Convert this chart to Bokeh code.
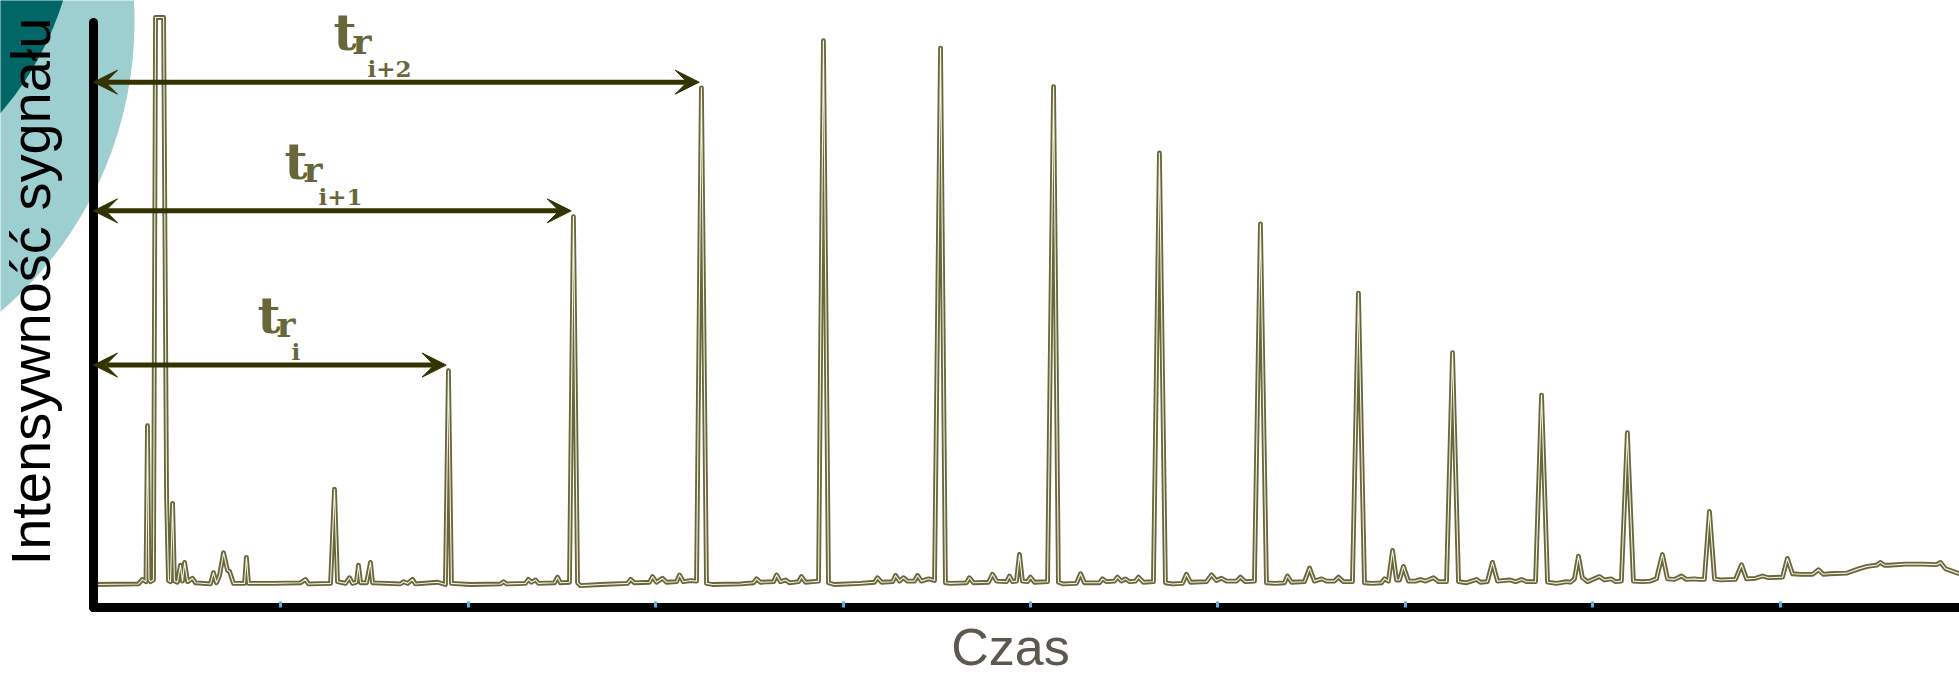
from bokeh.plotting import figure
from bokeh.models import Range1d, FixedTicker, Arrow, VeeHead, Label, LinearAxis
from bokeh.embed import file_html
from bokeh.resources import INLINE

# ---------------- data ----------------
# retention time (arbitrary time units, axis ticks at 1..9) and signal (% of full scale)
trace_time = [
    0.000, 0.240, 0.261, 0.280, 0.288, 0.296, 0.304, 0.320, 0.331, 0.374, 0.390, 0.400,
    0.411, 0.422, 0.432, 0.448, 0.464, 0.475, 0.486, 0.502, 0.528, 0.544, 0.624, 0.640,
    0.656, 0.672, 0.694, 0.715, 0.726, 0.747, 0.806, 0.816, 0.827, 0.955, 1.105, 1.131,
    1.147, 1.265, 1.286, 1.302, 1.345, 1.366, 1.382, 1.403, 1.414, 1.425, 1.457, 1.478,
    1.489, 1.638, 1.654, 1.676, 1.702, 1.718, 1.836, 1.878, 1.894, 1.910,
    2.012, 2.172, 2.188, 2.204, 2.305, 2.321, 2.337, 2.359, 2.375, 2.460, 2.476, 2.492,
    2.540, 2.561, 2.583, 2.599, 2.705, 2.849, 2.866, 2.887, 2.967, 2.983, 3.004, 3.036,
    3.058, 3.111, 3.127, 3.148, 3.186, 3.218, 3.244, 3.271, 3.303, 3.452, 3.522, 3.538,
    3.559, 3.629, 3.645, 3.666, 3.693, 3.714, 3.762, 3.778, 3.799, 3.837, 3.869, 3.895,
    3.922, 3.954, 4.093, 4.168, 4.183, 4.205, 4.264, 4.280, 4.301, 4.322, 4.344, 4.381,
    4.397, 4.418, 4.456, 4.488, 4.520, 4.546, 4.573, 4.658, 4.674, 4.696, 4.776, 4.797,
    4.819, 4.872, 4.888, 4.904, 4.925, 4.941, 4.957, 4.984, 5.000, 5.021, 5.091, 5.123,
    5.149, 5.176, 5.245, 5.267, 5.288, 5.368, 5.384, 5.405, 5.448, 5.464, 5.485, 5.507,
    5.528, 5.560, 5.576, 5.603, 5.656, 5.688, 5.720, 5.758, 5.811, 5.832, 5.854, 5.939,
    5.966, 5.992, 6.019, 6.046, 6.099, 6.120, 6.147, 6.195, 6.227, 6.259, 6.307, 6.355,
    6.371, 6.393, 6.462, 6.489, 6.515, 6.553, 6.579, 6.622, 6.643, 6.670, 6.718, 6.750,
    6.782, 6.825, 6.873, 6.889, 6.910, 6.932, 6.953, 6.969, 6.990, 7.017, 7.054, 7.081,
    7.108, 7.150, 7.177, 7.220, 7.252, 7.284, 7.326, 7.380, 7.401, 7.438, 7.465, 7.492,
    7.561, 7.588, 7.620, 7.647, 7.695, 7.727, 7.759, 7.807, 7.860, 7.881, 7.903, 7.924,
    7.945, 7.972, 8.036, 8.063, 8.100, 8.121, 8.153, 8.185, 8.217, 8.265, 8.308, 8.340,
    8.372, 8.399, 8.436, 8.474, 8.500, 8.543, 8.564, 8.596, 8.623, 8.650, 8.682, 8.762,
    8.794, 8.821, 8.868, 8.906, 8.938, 9.013, 9.039, 9.066, 9.109, 9.173, 9.205, 9.231,
    9.263, 9.354, 9.423, 9.466, 9.514, 9.535, 9.557, 9.578, 9.669, 9.760, 9.834, 9.856,
    9.882, 9.957,
]
trace_signal = [
    0.0, 0.1, 0.9, 0.5, 28.0, 0.8, 0.5, 0.8, 100.0, 100.0, 15.3, 0.7,
    0.5, 14.3, 0.6, 0.4, 3.4, 0.6, 3.9, 0.5, 1.1, 0.3, 0.1, 2.1,
    0.3, 1.5, 5.6, 2.5, 2.3, 0.2, 0.2, 4.8, 0.2, 0.2, 0.3, 0.9,
    0.1, 0.2, 16.8, 0.5, 0.2, 1.2, 0.2, 0.4, 3.4, 0.3, 0.3, 3.9,
    0.3, 0.1, 0.5, 0.2, 0.9, 0.1, 0.4, 0.0, 37.7, 0.2,
    0.0, 0.1, 0.5, 0.1, 0.2, 0.9, 0.4, 0.8, 0.2, 0.3, 1.3, 0.3,
    0.4, 64.9, 0.3, -0.2, 0.0, 0.2, 0.9, 0.3, 0.4, 1.4, 0.4, 1.1,
    0.4, 0.5, 1.7, 0.5, 0.7, 0.6, 87.6, 0.2, 0.0, 0.1, 0.3, 1.0,
    0.4, 0.5, 1.7, 0.5, 0.8, 0.3, 0.5, 1.4, 0.4, 0.5, 0.6, 95.9,
    0.3, 0.0, 0.2, 0.4, 1.2, 0.4, 0.5, 1.6, 0.6, 1.2, 0.6, 0.6,
    1.6, 0.6, 1.0, 0.7, 94.6, 0.3, 0.2, 0.3, 1.2, 0.3, 0.4, 1.8,
    0.6, 0.5, 1.5, 0.5, 0.6, 5.3, 0.6, 0.5, 1.3, 0.4, 0.5, 87.8,
    0.4, 0.1, 0.2, 1.9, 0.3, 0.3, 1.0, 0.5, 0.6, 1.3, 0.6, 1.0,
    0.5, 0.6, 1.3, 0.4, 0.5, 76.1, 0.3, 0.1, 0.2, 1.8, 0.4, 0.5,
    1.7, 0.7, 1.1, 0.6, 0.6, 1.3, 0.5, 0.6, 63.6, 0.3, 0.2, 0.3,
    1.5, 0.4, 0.5, 2.9, 0.6, 1.0, 0.6, 0.6, 1.3, 0.5, 0.5, 51.4,
    0.3, 0.2, 0.3, 1.0, 0.6, 6.0, 0.8, 0.8, 3.2, 0.6, 0.6, 0.9,
    0.6, 1.2, 0.5, 0.5, 40.9, 0.5, 0.3, 0.9, 0.4, 0.5, 3.9, 0.6,
    0.8, 0.5, 0.9, 0.5, 0.5, 33.4, 0.4, 0.2, 0.5, 0.4, 1.0, 5.0,
    1.2, 0.5, 1.4, 0.8, 1.0, 0.5, 0.6, 26.8, 0.6, 0.5, 0.6, 1.0,
    5.3, 1.0, 0.9, 1.5, 0.9, 1.0, 0.9, 0.9, 12.9, 1.0, 0.8, 0.9,
    3.5, 1.0, 1.1, 1.5, 1.2, 1.3, 4.6, 1.9, 1.8, 1.8, 2.6, 1.8,
    1.9, 2.0, 2.8, 3.2, 3.4, 3.9, 3.4, 3.4, 3.6, 3.6, 3.5, 3.9,
    2.8, 1.9,
]

# the three successive peaks marked with retention-time arrows
marked_rt = [1.894, 2.561, 3.244]
marked_height = [37.7, 64.9, 87.6]
marked_sub = ["i", "i+1", "i+2"]
label_left = [0.875, 1.019, 1.281]      # left edge of each "t_r" label (time units)

time_ticks = [1, 2, 3, 4, 5, 6, 7, 8, 9]

# slide decoration (two teal discs in the top-left corner)
decor_x = [-1.814, -1.772]
decor_y = [99.3, 119.6]
decor_diameter_px = [762, 632]
decor_color = ["#9dcfd0", "#006666"]

# ---------------- styling ----------------
OLIVE = "#68673a"
CORE = "#f3f2e6"
ARROW = "#333300"
ARROW_LIFT = 1.0      # arrows sit just above the peak apex
TIP_GAP = 0.012       # arrow tip stops just short of the peak
X_AXIS_AT = -4.14     # signal value where the time axis is drawn

p = figure(width=1959, height=677, output_backend="svg", toolbar_location=None,
           x_range=Range1d(-0.4963, 9.9573), y_range=Range1d(-16.40, 103.0),
           min_border=0, title=None)
p.outline_line_color = None
p.background_fill_color = "white"
p.border_fill_color = "white"
p.grid.visible = False

p.scatter(decor_x, decor_y, size=decor_diameter_px, fill_color=decor_color,
          line_color=None, marker="circle")

p.line(trace_time, trace_signal, line_color=OLIVE, line_width=4.8, line_join="round")
p.line(trace_time, trace_signal, line_color=CORE, line_width=1.1, line_join="round")

# x axis (time): black rule with small blue ticks
xa = p.xaxis[0]
xa.fixed_location = X_AXIS_AT
xa.bounds = (0, 10)
xa.ticker = FixedTicker(ticks=time_ticks)
xa.axis_line_width = 9
xa.axis_line_color = "black"
xa.axis_line_cap = "round"
xa.major_tick_in = 6
xa.major_tick_out = 0
xa.major_tick_line_color = "#62addf"
xa.major_tick_line_width = 3
xa.minor_tick_line_color = None
xa.major_label_text_color = None
xa.major_label_text_font_size = "1px"
xa.major_label_standoff = 0

# y axis (signal): black rule only
ya = p.yaxis[0]
ya.fixed_location = 0
ya.bounds = (X_AXIS_AT, 99.2)
ya.ticker = FixedTicker(ticks=[])
ya.axis_line_width = 9
ya.axis_line_color = "black"
ya.axis_line_cap = "round"
ya.major_tick_line_color = None
ya.minor_tick_line_color = None
ya.major_label_text_color = None
ya.major_label_text_font_size = "1px"
ya.major_label_standoff = 0

# axis titles, carried by rule-less axes so that they are centred like the original
def title_axis(label, size, color, loc, bounds, standoff):
    ax = LinearAxis(fixed_location=loc, bounds=bounds, ticker=FixedTicker(ticks=[]),
                    axis_line_color=None, major_tick_in=0, major_tick_out=0,
                    minor_tick_in=0, minor_tick_out=0,
                    major_tick_line_color=None, minor_tick_line_color=None,
                    major_label_text_color=None, major_label_text_font_size="1px",
                    major_label_standoff=0,
                    axis_label=label, axis_label_text_font="Liberation Sans",
                    axis_label_text_font_size=size, axis_label_text_font_style="normal",
                    axis_label_text_color=color, axis_label_standoff=standoff)
    return ax

p.add_layout(title_axis("Czas", "52px", "#5c584e", X_AXIS_AT, (0, 9.786), 10), "below")
p.add_layout(title_axis("Intensywność sygnału", "56px", "black", 0, (4.2, 99.2), 32), "left")

# retention-time arrows and labels
for left, rt, h, sub in zip(label_left, marked_rt, marked_height, marked_sub):
    ay = h + ARROW_LIFT
    p.add_layout(Arrow(
        start=VeeHead(size=24, fill_color=ARROW, line_color=ARROW),
        end=VeeHead(size=24, fill_color=ARROW, line_color=ARROW),
        x_start=0, y_start=ay, x_end=rt - TIP_GAP, y_end=ay,
        line_color=ARROW, line_width=5))
    for txt, dx, dy, fs in (("t", 0, 49.5, "50px"), ("r", 19, 41.5, "36px"), (sub, 34, 14, "23px")):
        p.add_layout(Label(x=left, y=ay, text=txt, x_offset=dx, y_offset=dy,
                           text_font="DejaVu Serif", text_font_style="bold",
                           text_font_size=fs, text_color=OLIVE,
                           text_baseline="alphabetic", text_align="left"))

open("out.html", "w").write(file_html(p, INLINE))
